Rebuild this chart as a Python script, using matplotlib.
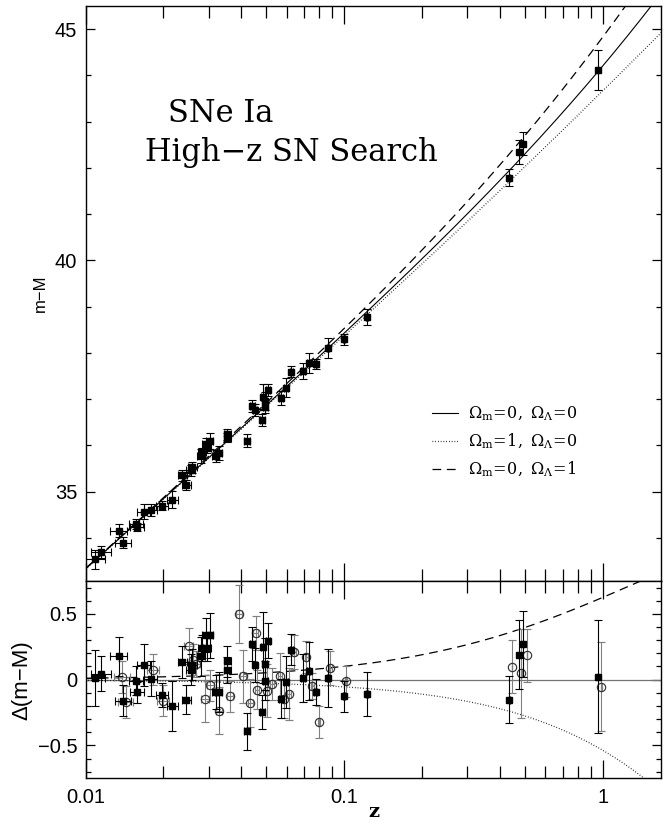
import numpy as np
import matplotlib
matplotlib.use('Agg')
import matplotlib.pyplot as plt
from matplotlib.lines import Line2D
from matplotlib.ticker import FixedLocator, MultipleLocator, FuncFormatter

plt.rcParams['mathtext.fontset'] = 'dejavuserif'

# ---- data: filled squares (MLCS) ----
z_f = [0.01093, 0.01153, 0.01349, 0.01398, 0.01574, 0.01588, 0.01680, 0.01788, 0.01978, 0.02169,
       0.02370, 0.02457, 0.02553, 0.02591, 0.02806, 0.02831, 0.02951, 0.02934, 0.03023, 0.03189,
       0.03275, 0.03538, 0.0354, 0.04214, 0.04419, 0.04525, 0.04830, 0.04859, 0.04932, 0.0496,
       0.05079, 0.05718, 0.05978, 0.06252, 0.06935, 0.07315, 0.07763, 0.0866, 0.0998, 0.1225,
       0.436, 0.474, 0.491, 0.96]
mu_f = [33.54, 33.69, 34.16, 33.90, 34.31, 34.24, 34.57, 34.61, 34.70, 34.83,
        35.35, 35.15, 35.46, 35.53, 35.77, 35.85, 35.94, 36.03, 36.09, 35.78,
        35.84, 36.24, 36.17, 36.10, 36.86, 36.76, 36.55, 37.05, 36.96, 36.84,
        37.20, 37.02, 37.25, 37.59, 37.61, 37.78, 37.76, 38.11, 38.29, 38.78,
        41.79, 42.35, 42.52, 44.11]
d_f = [0.013, 0.046, 0.177, -0.160, -0.008, -0.096, 0.109, 0.008, -0.119, -0.198,
       0.134, -0.152, 0.076, 0.114, 0.177, 0.241, 0.241, 0.337, 0.337, -0.094,
       -0.094, 0.139, 0.071, -0.393, 0.271, 0.109, -0.246, 0.246, 0.119, -0.008,
       0.297, -0.145, -0.018, 0.228, 0.013, 0.063, -0.094, 0.013, -0.127, -0.109,
       -0.152, 0.190, 0.271, 0.023]
s_f = [0.21, 0.13, 0.15, 0.12, 0.11, 0.08, 0.16, 0.13, 0.09, 0.19,
       0.12, 0.11, 0.12, 0.12, 0.15, 0.10, 0.10, 0.13, 0.17, 0.13,
       0.15, 0.12, 0.10, 0.14, 0.13, 0.13, 0.13, 0.27, 0.20, 0.15,
       0.13, 0.15, 0.20, 0.12, 0.18, 0.22, 0.10, 0.22, 0.12, 0.17,
       0.18, 0.26, 0.25, 0.43]

# ---- data: open circles (template fitting) ----
z_o = [0.01387, 0.01430, 0.01826, 0.01996, 0.02507, 0.02607, 0.02669, 0.02891, 0.03041, 0.03284,
       0.03611, 0.03925, 0.04066, 0.04341, 0.04551, 0.04605, 0.05035, 0.05281, 0.05634, 0.05838,
       0.06123, 0.06403, 0.07144, 0.07535, 0.07993, 0.08843, 0.102, 0.446, 0.485, 0.509, 0.989]
d_o = [0.018, -0.172, 0.076, -0.160, 0.256, 0.152, 0.119, -0.145, -0.043, -0.236,
       -0.127, 0.50, 0.025, -0.177, 0.355, -0.076, -0.084, -0.033, 0.025, -0.145,
       -0.109, 0.21, 0.170, -0.046, -0.322, 0.089, -0.013, 0.099, 0.048, 0.185, -0.053]
s_o = [0.12, 0.12, 0.12, 0.12, 0.14, 0.12, 0.10, 0.18, 0.12, 0.18,
       0.12, 0.22, 0.20, 0.18, 0.13, 0.15, 0.20, 0.12, 0.18, 0.15,
       0.20, 0.13, 0.12, 0.10, 0.12, 0.13, 0.12, 0.20, 0.34, 0.20, 0.34]
z_err = 0.001

# ---- cosmological models ----
models = [(0, 0), (1, 0), (0, 1)]
model_labels = [r'$\Omega_{\rm m}\!=\!0,\ \Omega_{\Lambda}\!=\!0$',
                r'$\Omega_{\rm m}\!=\!1,\ \Omega_{\Lambda}\!=\!0$',
                r'$\Omega_{\rm m}\!=\!0,\ \Omega_{\Lambda}\!=\!1$']
C_H0 = 299792.458 / 65.0


def dl(z, om, ol):
    z = np.asarray(z, dtype=float)
    if om == 0 and ol == 0:
        return C_H0 * z * (1 + z / 2)
    if om == 1 and ol == 0:
        return 2 * C_H0 * (1 + z) * (1 - 1 / np.sqrt(1 + z))
    return C_H0 * z * (1 + z)


def mu(z, om, ol):
    return 5 * np.log10(dl(z, om, ol)) + 25


styles = [dict(ls='-', lw=0.8),
          dict(ls=(0, (0.6, 1.6)), lw=0.9),
          dict(ls=(0, (7, 4.5)), lw=0.9)]

W, H = 668, 825
fig = plt.figure(figsize=(W / 100, H / 100), dpi=100)
ax = fig.add_axes([0.128, 0.2958, 0.862, 0.697])
ax2 = fig.add_axes([0.128, 0.0566, 0.862, 0.2392], sharex=ax)

zz = np.logspace(-2, np.log10(1.7), 400)

# top panel
for (om, ol), st in zip(models, styles):
    ax.plot(zz, mu(zz, om, ol), color='k', **st)
ax.errorbar(z_f, mu_f, yerr=s_f, xerr=z_err, fmt='s', color='k', ms=5,
            elinewidth=0.8, capsize=2.6, capthick=0.8, zorder=3)

# bottom panel
ax2.axhline(0, color='0.45', lw=0.9)
for (om, ol), st in zip(models[1:], styles[1:]):
    ax2.plot(zz, mu(zz, om, ol) - mu(zz, 0, 0), color='k', **st)
ax2.errorbar(z_o, d_o, yerr=s_o, xerr=z_err, fmt='o', mfc='none', mec='0.2', mew=0.85,
             ms=6, ecolor='0.5', elinewidth=0.8, capsize=2.6, capthick=0.8, zorder=3)
ax2.errorbar(z_f, d_f, yerr=s_f, xerr=z_err, fmt='s', color='k', ms=4.6,
             elinewidth=0.8, capsize=2.6, capthick=0.8, zorder=4)

ax.set_xscale('log')
ax.set_xlim(0.01, 1.686)
ax.set_ylim(33.07, 45.5)
ax2.set_ylim(-0.75, 0.75)

for a in (ax, ax2):
    for sp in a.spines.values():
        sp.set_linewidth(1.0)
    a.tick_params(which='both', direction='in', top=True, right=True, width=0.9)
    a.tick_params(axis='x', which='major', length=13)
    a.tick_params(axis='x', which='minor', length=8.4)
    a.tick_params(axis='y', which='major', length=6.7, pad=6)
    a.tick_params(axis='y', which='minor', length=3.6)
    a.xaxis.set_major_locator(FixedLocator([0.01, 0.1, 1]))

ax.yaxis.set_major_locator(FixedLocator([35, 40, 45]))
ax.yaxis.set_minor_locator(MultipleLocator(1))
ax2.yaxis.set_major_locator(FixedLocator([-0.5, 0, 0.5]))
ax2.yaxis.set_minor_locator(MultipleLocator(0.1))
ax.tick_params(axis='x', labelbottom=False)

ax2.xaxis.set_major_formatter(FuncFormatter(lambda v, p: {0.01: '0.01', 0.1: '0.1', 1: '1'}.get(round(v, 3), '')))
ax2.yaxis.set_major_formatter(FuncFormatter(lambda v, p: '0' if abs(v) < 1e-9 else ('%.1f' % v).replace('-', '\u2212')))
for lab in ax.get_yticklabels() + ax2.get_yticklabels() + ax2.get_xticklabels():
    lab.set_fontfamily('Liberation Sans')
    lab.set_fontsize(14.5)
ax2.tick_params(axis='x', pad=7)

ax.set_ylabel('m\u2212M', family='Liberation Sans', fontsize=12)
ax.yaxis.set_label_coords(-0.066, 0.5)
ax2.set_ylabel('\u0394(m\u2212M)', family='Liberation Sans', fontsize=16)
ax2.yaxis.set_label_coords(-0.092, 0.5)
ax2.set_xlabel('z', family='DejaVu Serif', fontsize=14, fontweight='bold', labelpad=-3)

# title text
fig.text(221 / W, 1 - 113 / H, 'SNe Ia', family='DejaVu Serif', fontsize=22,
         ha='center', va='center')
fig.text(291 / W, 1 - 153 / H, 'High\u2212z SN Search', family='DejaVu Serif', fontsize=22,
         ha='center', va='center')

# legend
handles = [Line2D([], [], color='k', **st) for st in styles]
leg = ax.legend(handles, model_labels, loc='upper left', frameon=False,
                bbox_to_anchor=(432 / W, 1 - 405 / H), bbox_transform=fig.transFigure,
                fontsize=11.5, handlelength=1.65, handletextpad=0.6, labelspacing=0.52,
                borderpad=0, borderaxespad=0)

fig.savefig('out.png', dpi=100)
